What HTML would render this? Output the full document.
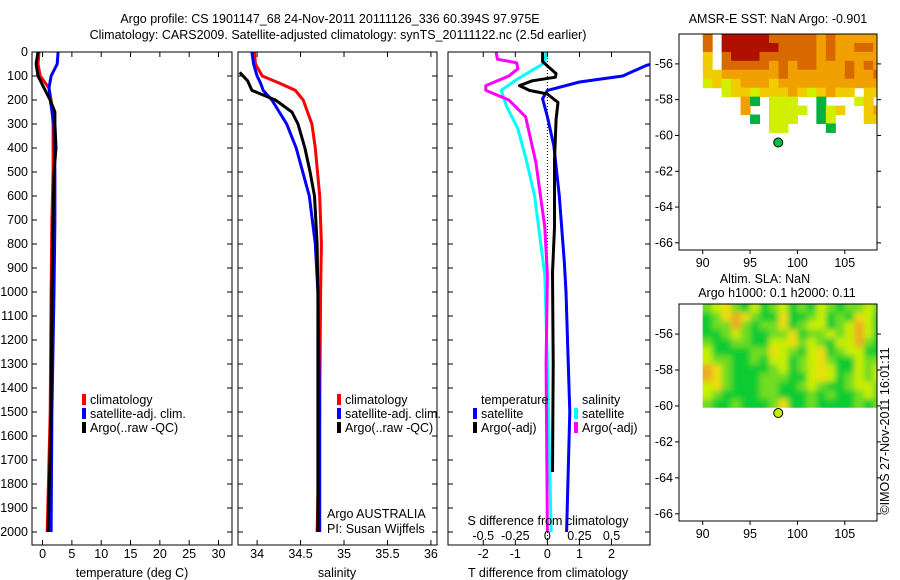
<!DOCTYPE html>
<html><head><meta charset="utf-8">
<style>
html,body{margin:0;padding:0;background:#fff;}
svg{display:block;font-family:"Liberation Sans",sans-serif;}
text{font-size:12.5px;fill:#000;}
</style></head>
<body>
<svg id="fig" width="900" height="580" viewBox="0 0 900 580" xmlns="http://www.w3.org/2000/svg">
<defs><filter id="soft" x="-0.1" y="-0.1" width="1.2" height="1.2"><feGaussianBlur stdDeviation="3"/></filter></defs>
<text x="330" y="23" text-anchor="middle">Argo profile: CS 1901147_68 24-Nov-2011 20111126_336 60.394S 97.975E</text>
<text x="338" y="39" text-anchor="middle">Climatology: CARS2009. Satellite-adjusted climatology: synTS_20111122.nc (2.5d earlier)</text>
<text x="778" y="23" text-anchor="middle">AMSR-E SST: NaN Argo: -0.901</text>
<text x="765" y="283" text-anchor="middle">Altim. SLA: NaN</text>
<text x="777" y="297" text-anchor="middle">Argo h1000: 0.1 h2000: 0.11</text>
<text transform="translate(889,431) rotate(-90)" text-anchor="middle">©IMOS 27-Nov-2011 16:01:11</text>
<g id="plots"></g>
</svg>
<script>
const depthClim = [0,50,100,150,200,300,500,700,1000,1500,2000];
const tempClim  = [-0.6,-0.77,-0.4,1.1,1.45,1.8,1.8,1.6,1.45,1.3,0.8];
const tempSat   = [2.65,2.5,1.45,1.1,1.3,1.95,2.1,2.1,1.95,1.6,1.45];
const depthArgoT = [0,50,100,150,200,250,300,400,500,700,1000,1500,2000];
const tempArgo  = [-0.77,-1.1,-0.77,0.25,1.3,2.1,2.1,2.3,1.95,1.8,1.6,1.45,0.95];

const depthSal = [0,50,100,130,160,200,300,400,600,800,1000,1500,2000];
const salClim  = [33.97,33.98,34.06,34.26,34.44,34.53,34.63,34.67,34.72,34.74,34.73,34.72,34.69];
const salSat   = [33.94,33.96,34.0,34.04,34.07,34.17,34.34,34.45,34.6,34.67,34.7,34.72,34.72];
const depthArgoS = [85,120,160,200,250,300,400,500,600,800,1000,1500,2000];
const salArgo  = [33.8,33.89,33.94,34.21,34.4,34.47,34.55,34.61,34.66,34.69,34.7,34.7,34.7];

const depthDT = [40,55,100,125,160,195,270,390,600,880,1000,1500,2000];
const dTsat   = [3.6,3.1,2.35,1.0,0.0,-0.15,0.0,0.2,0.37,0.53,0.58,0.7,0.6];
const depthDTa = [0,40,90,105,120,140,160,175,210,280,450,730,920,1300,1750];
const dTargo  = [-0.15,-0.15,0.27,0.25,-0.47,-0.87,-0.56,0.0,0.33,0.27,0.22,0.22,0.16,0.18,0.16];
const depthDS = [0,45,115,160,225,320,460,600,930,1300,2000];
const dSsat   = [-0.01,-0.02,-0.24,-0.36,-0.32,-0.23,-0.16,-0.1,-0.02,0.0,0.03];
const depthDSa = [0,30,45,70,100,140,160,200,270,460,730,930,1300,2000];
const dSargo  = [-0.4,-0.39,-0.24,-0.23,-0.3,-0.48,-0.48,-0.3,-0.17,-0.09,-0.02,0.0,-0.01,0.0];

const depthTicks = [0,100,200,300,400,500,600,700,800,900,1000,1100,1200,1300,1400,1500,1600,1700,1800,1900,2000];
const tempTicks = [0,5,10,15,20,25,30];
const salTicks = [34,34.5,35,35.5,36];
const salTickLabels = ["34","34.5","35","35.5","36"];
const dTTicks = [-2,-1,0,1,2];
const dSTicks = [-0.5,-0.25,0,0.25,0.5];
const dSTickLabels = ["-0.5","-0.25","0","0.25","0.5"];
const lonTicks = [90,95,100,105];
const latTicks = [-56,-58,-60,-62,-64,-66];

const sstRows = [
"o.rrrrroooooaoaaaaa",
"o.rrrrrrooooaoaaooa",
"y.orrrooooooaoaaaaa",
"y.oooooaoaooaaaoaoa",
"yyaaaaaaoaaaaaaoaao",
"lylyaaayaaaaaaaaaaa",
"..lyylyyyaylyayy.yy",
"....ag.lll..g...ly.",
"....a..llll.gly..ya",
".....g.lll..gl...yy",
".......ll....g....."];
const slaRows = [
"lyYlgyglyglgylgllyl",
"glYoYlggYgglyglgYyg",
"gllolgllYglyyglyoyg",
"gglylggllYgllylyoyg",
"lggllggyyYlylgyyolg",
"yggggllYylgyYglyygg",
"yllgglgyyglyYlggyll",
"oYlgggglyglyYyggyly",
"oYlggglllggyYyglyly",
"yYlgggllgglylgglyyl",
"ylggggllggglglgglyl",
"lgglggglYgglgggglgl"];
const argoLon = 97.975, argoLat = -60.394;

const NS="http://www.w3.org/2000/svg";
const root=document.getElementById('plots');
function mk(tag,attrs,parent){const e=document.createElementNS(NS,tag);for(const k in attrs)e.setAttribute(k,attrs[k]);(parent||root).appendChild(e);return e;}
function txt(x,y,s,anchor,parent){const t=mk('text',{x:x,y:y,'text-anchor':anchor||'start'},parent);t.textContent=s;return t;}

const Y0=52, Y1=545;
const yD=d=>Y0+d*0.24;

function panel(name,x0,x1,vmin,vmax){
  const g=mk('g',{});
  
  
  const sx=v=>x0+(v-vmin)/(vmax-vmin)*(x1-x0);
  const cid='clip-'+name;
  const cp=mk('clipPath',{id:cid},g);mk('rect',{x:x0,y:Y0,width:x1-x0,height:Y1-Y0},cp);
  return {g,sx,cid,x0,x1};
}
function frame(p){
  const r=mk('rect',{x:p.x0,y:Y0,width:p.x1-p.x0,height:Y1-Y0,fill:'none',stroke:'#000','stroke-width':1},p.g);
  
  
  depthTicks.forEach(d=>{
    mk('line',{x1:p.x0,y1:yD(d),x2:p.x0+5,y2:yD(d),stroke:'#000'},p.g);
    mk('line',{x1:p.x1,y1:yD(d),x2:p.x1-5,y2:yD(d),stroke:'#000'},p.g);
  });
}
function xticks(p,ticks,labels,ly){
  ticks.forEach((v,i)=>{
    const x=p.sx(v);
    mk('line',{x1:x,y1:Y1,x2:x,y2:Y1-5,stroke:'#000'},p.g);
    mk('line',{x1:x,y1:Y0,x2:x,y2:Y0+5,stroke:'#000'},p.g);
    const t=txt(x,ly,labels[i],'middle',p.g);
    
    
  });
}
function line(p,vals,depths,color,name,w){
  const pts=vals.map((v,i)=>p.sx(v).toFixed(1)+','+yD(depths[i]).toFixed(1)).join(' ');
  const l=mk('polyline',{points:pts,fill:'none',stroke:color,'stroke-width':w||3,'clip-path':'url(#'+p.cid+')','stroke-linejoin':'round'},p.g);
  
  
}
function legend(g,x,y,items){
  items.forEach((it,i)=>{
    const yy=y+i*14;
    if(it[0]) mk('rect',{x:x,y:yy-10,width:4,height:11,fill:it[0]},g);
    const t=txt(x+8,yy,it[1],'start',g);
    
    
  });
}

depthTicks.forEach(d=>{const t=txt(28,yD(d)+4,String(d),'end');
  
  });

const p1=panel('temperature-panel',32,232,-1.8,32.3);
line(p1,tempClim,depthClim,'#f00','temp-climatology-line');
line(p1,tempSat,depthClim,'#00f','temp-satellite-line');
line(p1,tempArgo,depthArgoT,'#000','temp-argo-line');
frame(p1);
xticks(p1,tempTicks,tempTicks.map(String),558);
txt(132,577,'temperature (deg C)','middle',p1.g);
legend(p1.g,82,404,[['#f00','climatology'],['#00f','satellite-adj. clim.'],['#000','Argo(..raw -QC)']]);

const p2=panel('salinity-panel',238,437,33.78,36.07);
line(p2,salClim,depthSal,'#f00','sal-climatology-line');
line(p2,salSat,depthSal,'#00f','sal-satellite-line');
line(p2,salArgo,depthArgoS,'#000','sal-argo-line');
frame(p2);
xticks(p2,salTicks,salTickLabels,558);
txt(337,577,'salinity','middle',p2.g);
legend(p2.g,337,404,[['#f00','climatology'],['#00f','satellite-adj. clim.'],['#000','Argo(..raw -QC)']]);
txt(327,518,'Argo AUSTRALIA','start',p2.g);
txt(327,533,'PI: Susan Wijffels','start',p2.g);

const p3=panel('difference-panel',448,650,-3.1,3.2);
const p3s={g:p3.g,cid:p3.cid,sx:v=>p3.sx(v*4)};
const zl=mk('line',{x1:p3.sx(0),y1:Y0,x2:p3.sx(0),y2:Y1,stroke:'#000','stroke-dasharray':'1,2'},p3.g);


line(p3s,dSsat,depthDS,'#0ff','sdiff-satellite-line');
line(p3s,dSargo,depthDSa,'#f0f','sdiff-argo-line');
line(p3,dTsat,depthDT,'#00f','tdiff-satellite-line');
line(p3,dTargo,depthDTa,'#000','tdiff-argo-line');
frame(p3);
xticks(p3,dTTicks,dTTicks.map(String),558);
dSTicks.forEach((v,i)=>{const t=txt(p3s.sx(v),540,dSTickLabels[i],'middle',p3.g);
  
  });
txt(548,525,'S difference from climatology','middle',p3.g);
txt(548,577,'T difference from climatology','middle',p3.g);
legend(p3.g,473,404,[[null,'temperature'],['#00f','satellite'],['#000','Argo(-adj)']]);
legend(p3.g,574,404,[[null,'salinity'],['#0ff','satellite'],['#f0f','Argo(-adj)']]);

function map(name,top,bottom,rows,colors,dLat,marker,soft,dataBottomLat){
  const x0=679,x1=877,lonMin=87.5,lonMax=108.4,latTop=-54.33,latBot=-66.4;
  const g=mk('g',{});
  
  
  const sx=v=>x0+(v-lonMin)/(lonMax-lonMin)*(x1-x0);
  const sy=v=>top+(latTop-v)/(latTop-latBot)*(bottom-top);
  const cid='clip-'+name;
  const cp=mk('clipPath',{id:cid},g);
  const clipBottom = dataBottomLat!==undefined ? sy(dataBottomLat) : bottom;
  mk('rect',{x:sx(90),y:top,width:x1-sx(90),height:clipBottom-top},cp);
  const outer=mk('g',{'clip-path':'url(#'+cid+')'},g);
  const cg=mk('g',soft?{filter:'url(#soft)'}:{},outer);
  rows.forEach((row,r)=>{
    for(let c=0;c<row.length;c++){
      const col=colors[row[c]]; if(!col) continue;
      let yt=sy(latTop-r*dLat), yb=sy(latTop-(r+1)*dLat);
      if(soft){ if(r===0) yt-=8; if(r===rows.length-1) yb+=8; }
      let xl=sx(90+c), xr=sx(91+c)+0.5;
      if(soft){ if(c===0) xl-=8; if(c===row.length-1) xr+=8; }
      const cell=mk('rect',{x:xl,y:yt,width:xr-xl,height:yb-yt+0.5,fill:col},cg);
      
      
    }
  });
  const f=mk('rect',{x:x0,y:top,width:x1-x0,height:bottom-top,fill:'none',stroke:'#000'},g);
  
  
  lonTicks.forEach(v=>{mk('line',{x1:sx(v),y1:bottom,x2:sx(v),y2:bottom+4,stroke:'#000'},g);
    txt(sx(v),bottom+17,String(v),'middle',g);});
  latTicks.forEach(v=>{mk('line',{x1:x0,y1:sy(v),x2:x0-4,y2:sy(v),stroke:'#000'},g);
    mk('line',{x1:x1,y1:sy(v),x2:x1+4,y2:sy(v),stroke:'#000'},g);
    txt(x0-6,sy(v)+4,String(v),'end',g);});
  const m=mk('circle',{cx:sx(argoLon),cy:sy(argoLat),r:4.5,fill:marker,stroke:'#000'},g);
  
  
}
map('sst-map',34,250,sstRows,{r:'#b01000',o:'#d86800',a:'#f0a000',y:'#f0cc00',l:'#d0f000',g:'#00b040'},0.5,'#00c040',false);
map('sla-map',304,521,slaRows,{g:'#10cc30',l:'#70dd20',y:'#c8ee00',Y:'#eedd10',o:'#eeaa20'},0.48,'#c8ee00',true,-60.1);
</script>
</body></html>
